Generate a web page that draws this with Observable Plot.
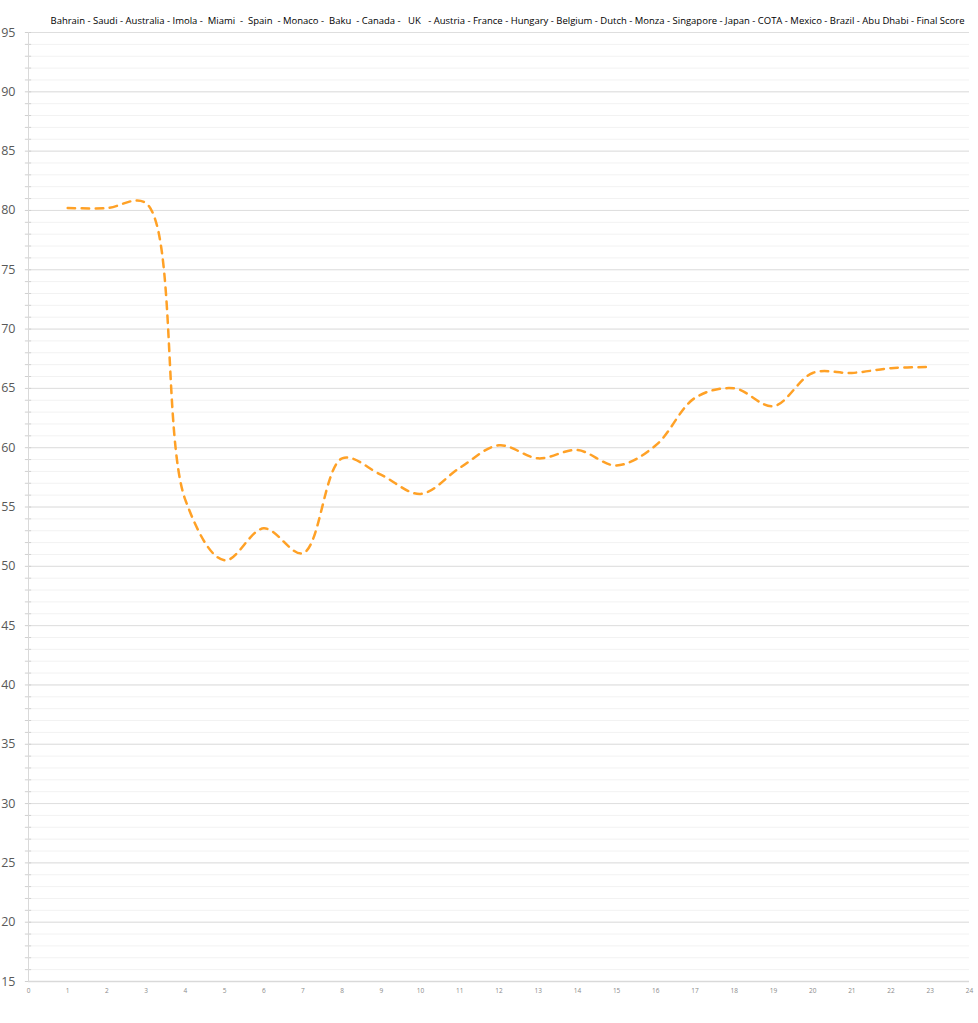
<!DOCTYPE html>
<html>
<head>
<meta charset="utf-8">
<script src="https://cdn.jsdelivr.net/npm/d3@7"></script>
<script src="https://cdn.jsdelivr.net/npm/@observablehq/plot@0.6"></script>
<style>
  html, body { margin: 0; padding: 0; background: #fff; }
  #chart svg { display: block; }
</style>
</head>
<body>
<div id="chart"></div>
<script>
// Race number (1..23) and cumulative score
const races = [1, 2, 3, 4, 5, 6, 7, 8, 9, 10, 11, 12, 13, 14, 15, 16, 17, 18, 19, 20, 21, 22, 23];
const scores = [80.2, 80.2, 80.6, 55.6, 50.5, 53.2, 51.1, 59.1, 57.7, 56.1, 58.3, 60.2, 59.1, 59.8, 58.5, 60.2, 64.2, 65.0, 63.5, 66.3, 66.3, 66.7, 66.8];
const titleText = "Bahrain - Saudi - Australia - Imola -  Miami  -  Spain  - Monaco -  Baku  - Canada -   UK   - Austria - France - Hungary - Belgium - Dutch - Monza - Singapore - Japan - COTA - Mexico - Brazil - Abu Dhabi - Final Score";
const yMajorTicks = [15, 20, 25, 30, 35, 40, 45, 50, 55, 60, 65, 70, 75, 80, 85, 90, 95];
const yMinorTicks = d3.range(15, 96);
const xTicks = d3.range(0, 25);

const data = races.map((r, i) => ({race: r, score: scores[i]}));

const chart = Plot.plot({
  width: 978,
  height: 1023,
  marginTop: 32,
  marginBottom: 42,
  marginLeft: 28,
  marginRight: 9,
  style: {fontFamily: "'Open Sans', sans-serif", background: "#fff", overflow: "visible"},
  x: {domain: [0, 24], ticks: xTicks},
  y: {domain: [15, 95]},
  marks: [
    Plot.ruleY(yMinorTicks, {stroke: "#f2f2f2", strokeWidth: 1}),
    Plot.ruleY(yMajorTicks, {stroke: "#dedede", strokeWidth: 1}),
    Plot.ruleY(yMinorTicks, {x1: -0.08, x2: 0.08, stroke: "#d0d0d0", strokeWidth: 1}),
    Plot.ruleX([0], {stroke: "#d9d9d9", strokeWidth: 1}),
    Plot.ruleY([15], {stroke: "#d9d9d9", strokeWidth: 1.3}),
    Plot.axisY({ticks: yMajorTicks, tickSize: 0, tickPadding: 13, fontSize: 12.5, fill: "#595959", label: null}),
    Plot.axisX({ticks: xTicks, tickSize: 0, tickPadding: 7, fontSize: 6.5, fill: "#8a8a8a", label: null}),
    Plot.line(data, {x: "race", y: "score", curve: "catmull-rom", stroke: "#ffa126", strokeWidth: 2.5, strokeDasharray: "7.5,6.5", strokeLinecap: "round"}),
    Plot.text([titleText], {frameAnchor: "top", dx: 8.5, dy: -15, text: d => d, fontSize: 9.5, fill: "#000", fontFamily: "'Open Sans', sans-serif"})
  ]
});
document.getElementById("chart").appendChild(chart);
d3.select(chart).selectAll("text")
  .filter(function() { return this.textContent === titleText; })
  .style("white-space", "pre")
  .attr("textLength", 914)
  .attr("lengthAdjust", "spacingAndGlyphs");
</script>
</body>
</html>
